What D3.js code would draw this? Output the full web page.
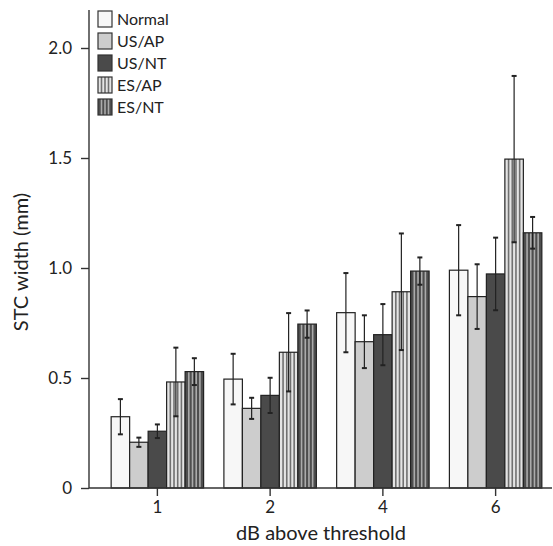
<!DOCTYPE html>
<html lang="en">
  <head>
    <meta charset="UTF-8" />
    <title>STC width</title>
    <script src="https://cdn.jsdelivr.net/npm/d3@7"></script>
    <style>
      html,
      body {
        margin: 0;
        padding: 0;
        background: #fff;
      }
      text {
        font-family: Lato, 'Open Sans', sans-serif;
        fill: #222;
      }
    </style>
  </head>
  <body>
    <script>
      const categories = ['1', '2', '4', '6'];
      const seriesNames = ['Normal', 'US/AP', 'US/NT', 'ES/AP', 'ES/NT'];
      // mean values per series, one per category
      const normal = [0.324, 0.495, 0.797, 0.99];
      const usAP = [0.208, 0.362, 0.665, 0.87];
      const usNT = [0.258, 0.421, 0.697, 0.973];
      const esAP = [0.482, 0.617, 0.892, 1.495];
      const esNT = [0.529, 0.745, 0.986, 1.16];
      // error bar half-lengths
      const normalErr = [0.08, 0.115, 0.18, 0.205];
      const usAPErr = [0.021, 0.048, 0.12, 0.147];
      const usNTErr = [0.031, 0.08, 0.139, 0.165];
      const esAPErr = [0.156, 0.178, 0.265, 0.378];
      const esNTErr = [0.061, 0.062, 0.062, 0.072];
      const yTicks = [0, 0.5, 1.0, 1.5, 2.0];

      const values = [normal, usAP, usNT, esAP, esNT];
      const errors = [normalErr, usAPErr, usNTErr, esAPErr, esNTErr];

      const styles = [
        { fill: '#f7f7f7', stripe: null },
        { fill: '#cdcdcd', stripe: null },
        { fill: '#4a4a4a', stripe: null },
        { fill: '#e4e4e4', stripe: '#707070' },
        { fill: '#4e4e4e', stripe: '#ababab' },
      ];

      const width = 553,
        height = 546;

      const svg = d3
        .select('body')
        .append('svg')
        .attr('width', width)
        .attr('height', height);

      const y = d3.scaleLinear().domain([0, 2.0]).range([488, 48]);

      const x0 = d3
        .scaleBand()
        .domain(categories)
        .range([101, 552])
        .paddingInner(0.18)
        .paddingOuter(0.09);

      const x1 = d3
        .scaleBand()
        .domain(seriesNames)
        .range([0, x0.bandwidth()]);

      // stripes drawn inside a rect
      function stripes(g, x, yTop, w, h, color, n) {
        for (let k = 1; k <= n; k++) {
          const sx = x + (w * k) / (n + 1);
          g.append('line')
            .attr('x1', sx)
            .attr('x2', sx)
            .attr('y1', yTop)
            .attr('y2', yTop + h)
            .attr('stroke', color)
            .attr('stroke-width', 1.6);
        }
      }

      // bars
      categories.forEach((c, i) => {
        seriesNames.forEach((s, j) => {
          const bx = x0(c) + x1(s);
          const bw = x1.bandwidth();
          const v = values[j][i];
          const g = svg.append('g');
          g.append('rect')
            .attr('x', bx)
            .attr('y', y(v))
            .attr('width', bw)
            .attr('height', y(0) - y(v))
            .attr('fill', styles[j].fill);
          if (styles[j].stripe) {
            stripes(g, bx, y(v), bw, y(0) - y(v), styles[j].stripe, 4);
          }
          g.append('rect')
            .attr('x', bx)
            .attr('y', y(v))
            .attr('width', bw)
            .attr('height', y(0) - y(v))
            .attr('fill', 'none')
            .attr('stroke', '#222')
            .attr('stroke-width', 1.2);
        });
      });

      // error bars
      categories.forEach((c, i) => {
        seriesNames.forEach((s, j) => {
          const cx = x0(c) + x1(s) + x1.bandwidth() / 2;
          const v = values[j][i];
          const e = errors[j][i];
          const eg = svg.append('g').attr('stroke', '#222').attr('stroke-width', 1.2);
          eg.append('line')
            .attr('x1', cx)
            .attr('x2', cx)
            .attr('y1', y(v + e))
            .attr('y2', y(v - e));
          [v + e, v - e].forEach(t => {
            eg.append('line')
              .attr('x1', cx - 2.5)
              .attr('x2', cx + 2.5)
              .attr('y1', y(t))
              .attr('y2', y(t))
              .attr('stroke-width', 2);
          });
        });
      });

      // axes
      const yAxis = svg
        .append('g')
        .attr('transform', 'translate(89,0)')
        .call(
          d3
            .axisLeft(y)
            .tickValues(yTicks)
            .tickSize(8)
            .tickPadding(9)
            .tickFormat(d => (d === 0 ? '0' : d3.format('.1f')(d))),
        );
      yAxis.select('.domain').attr('d', 'M0,10V488').attr('stroke', '#333').attr('stroke-width', 1.4);
      yAxis.selectAll('.tick line').attr('stroke', '#333').attr('stroke-width', 1.4);
      yAxis.selectAll('.tick text').attr('font-size', 17).style('fill', '#222');

      const xAxis = svg
        .append('g')
        .attr('transform', 'translate(0,488)')
        .call(d3.axisBottom(x0).tickSize(8).tickPadding(5));
      xAxis.select('.domain').attr('d', 'M89,0H552').attr('stroke', '#333').attr('stroke-width', 1.4);
      xAxis.selectAll('.tick line').attr('stroke', '#333').attr('stroke-width', 1.4);
      xAxis.selectAll('.tick text').attr('font-size', 17).style('fill', '#222');

      svg
        .append('text')
        .attr('x', 321)
        .attr('y', 540)
        .attr('text-anchor', 'middle')
        .attr('font-size', 20)
        .text('dB above threshold');

      svg
        .append('text')
        .attr('transform', 'translate(28,262) rotate(-90)')
        .attr('text-anchor', 'middle')
        .attr('font-size', 20)
        .text('STC width (mm)');

      // legend
      const legend = svg.append('g').attr('transform', 'translate(98,11)');
      seriesNames.forEach((s, j) => {
        const lg = legend.append('g').attr('transform', `translate(0,${j * 22})`);
        lg.append('rect')
          .attr('width', 14)
          .attr('height', 16)
          .attr('fill', styles[j].fill);
        if (styles[j].stripe) {
          stripes(lg, 0, 0, 14, 16, styles[j].stripe, 3);
        }
        lg.append('rect')
          .attr('width', 14)
          .attr('height', 16)
          .attr('fill', 'none')
          .attr('stroke', '#333')
          .attr('stroke-width', 1.2);
        lg.append('text')
          .attr('x', 19)
          .attr('y', 14)
          .attr('font-size', 16)
          .text(s);
      });
    </script>
  </body>
</html>
